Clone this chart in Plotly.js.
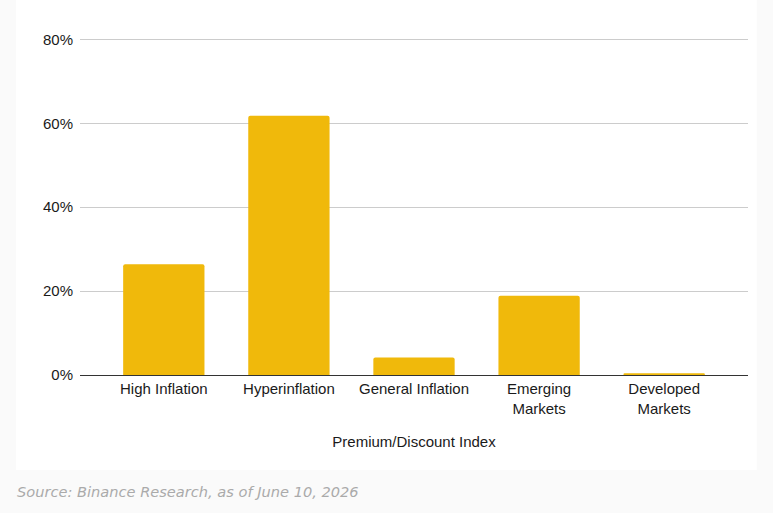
<!DOCTYPE html>
<html>
<head>
<meta charset="utf-8">
<script src="https://cdn.plot.ly/plotly-3.0.1.min.js"></script>
<style>html,body{margin:0;padding:0;background:#fafafa;}#chart{width:773px;height:513px;}</style>
</head>
<body>
<div id="chart"></div>
<script>
const categories = ["High Inflation", "Hyperinflation", "General Inflation", "Emerging<br>Markets", "Developed<br>Markets"];
const premiumValues = [26.4, 61.8, 4.2, 18.9, 0.4];
const yTickValues = [0, 20, 40, 60, 80];
const yTickLabels = ["0%", "20%", "40%", "60%", "80%"];
const xAxisTitle = "Premium/Discount Index";
const sourceText = "Source: Binance Research, as of June 10, 2026";

const trace = {
  type: "bar",
  x: [0, 1, 2, 3, 4],
  y: premiumValues,
  marker: { color: "#F0B90B", cornerradius: 2 },
  hoverinfo: "skip"
};

const layout = {
  width: 773,
  height: 513,
  margin: { l: 80, r: 25, t: 31, b: 138 },
  paper_bgcolor: "#fafafa",
  plot_bgcolor: "#ffffff",
  font: { family: "Liberation Sans, Arial, sans-serif", size: 15, color: "#1a1a1a" },
  showlegend: false,
  bargap: 0.35,
  xaxis: {
    range: [-0.67, 4.67],
    tickvals: [0, 1, 2, 3, 4],
    ticktext: categories,
    showgrid: false,
    zeroline: false,
    showline: true,
    linecolor: "#333",
    linewidth: 1,
    ticks: "",
    tickfont: { size: 15, color: "#1a1a1a" },
    title: { text: xAxisTitle, font: { size: 15, color: "#1a1a1a" }, standoff: 20 },
    fixedrange: true
  },
  yaxis: {
    range: [0, 82],
    tickvals: yTickValues,
    ticktext: yTickLabels,
    showgrid: true,
    gridcolor: "#cccccc",
    gridwidth: 1,
    zeroline: false,
    showline: false,
    ticks: "",
    ticklabelstandoff: 6,
    tickfont: { size: 15, color: "#1a1a1a" },
    fixedrange: true
  },
  shapes: [{
    type: "rect", xref: "paper", yref: "paper", layer: "below",
    x0: -0.096, x1: 1.013, y0: -0.276, y1: 1.1,
    fillcolor: "#ffffff", line: { width: 0 }
  }],
  annotations: [{
    text: sourceText,
    xref: "paper", yref: "paper",
    x: -0.097, y: -0.34, xanchor: "left", yanchor: "middle",
    showarrow: false,
    font: { family: "DejaVu Sans, sans-serif", size: 14.6, color: "#aaaaaa", style: "italic" }
  }]
};

Plotly.newPlot("chart", [trace], layout, { displayModeBar: false, staticPlot: true });
</script>
</body>
</html>
